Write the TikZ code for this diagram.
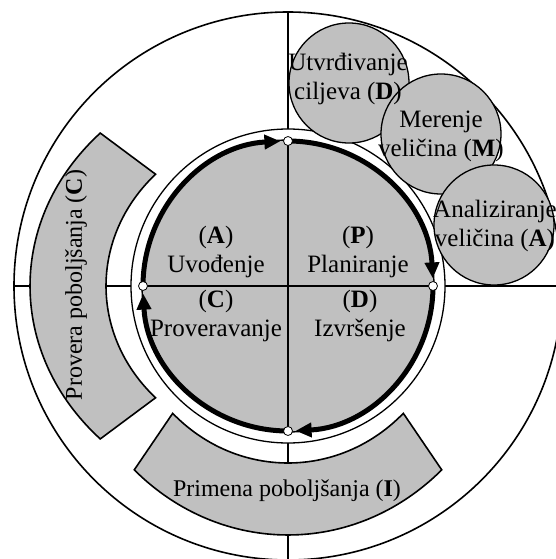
\documentclass[tikz,border=0pt]{standalone}
\usepackage{fontspec}
\setmainfont{Liberation Serif}
\usetikzlibrary{calc,arrows.meta}
\definecolor{ltgray}{RGB}{192,192,192}

\begin{document}
\begin{tikzpicture}[x=1pt,y=-1pt,
    band/.style={draw,line width=1.6pt,fill=ltgray},
    crossln/.style={line width=2.8pt},
    disc/.style={circle,draw,line width=1.3pt,fill=ltgray,inner sep=0pt,minimum size=120pt},
    cyc/.style={line width=5pt,-{Triangle[length=16pt,width=14pt]}},
    dot/.style={circle,draw,fill=white,line width=0.8pt,inner sep=0pt,minimum size=9pt},
    lbl/.style={align=center,font=\fontsize{25}{29}\selectfont}]
  \useasboundingbox (0,0) rectangle (556,559);
  \clip (0,0) rectangle (556,559);
  \coordinate (o) at (288,286);

  % outer ring and axes
  \draw[line width=1.6pt] (o) circle[radius=274];
  \coordinate (N) at (288,12);
  \coordinate (S) at (288,560);
  \coordinate (W) at (14,286);
  \coordinate (E) at (562,286);
  \draw[crossln] (N) -- (S);
  \draw[crossln] (W) -- (E);

  % improvement bands
  \draw[band] ($(o)+(136.7:258 and 223)$) arc[start angle=136.7,end angle=223.3,x radius=258,y radius=223]
    -- ($(o)+(223.3:182 and 163)$) arc[start angle=223.3,end angle=136.7,x radius=182,y radius=163] -- cycle;
  \draw[band] ($(o)+(47.6:228 and 249)$) arc[start angle=47.6,end angle=132.4,x radius=228,y radius=249]
    -- ($(o)+(134:166 and 177)$) arc[start angle=134,end angle=46,x radius=166,y radius=177] -- cycle;
  \node[rotate=90,font=\fontsize{24}{28}\selectfont] (tC) at (76,285) {Provera poboljšanja (\textbf{C})};
  \node[font=\fontsize{24}{28}\selectfont] (tI) at (287,491) {Primena poboljšanja (\textbf{I})};

  % PDCA core
  \draw[line width=1.3pt,fill=white] (o) circle[radius=157];
  \draw[line width=1.3pt,fill=ltgray] (o) circle[radius=146];
  \coordinate (pT) at (288,141);
  \coordinate (pB) at (288,431);
  \coordinate (pL) at (143,286);
  \coordinate (pR) at (433,286);
  \draw[line width=1.3pt] (pT) -- (pB);
  \draw[line width=1.3pt] (pL) -- (pR);
  \draw[cyc] (pL) arc[start angle=180,end angle=267,radius=145];
  \draw[cyc] (pT) arc[start angle=270,end angle=357,radius=145];
  \draw[cyc] (pR) arc[start angle=0,end angle=87,radius=145];
  \draw[cyc] (pB) arc[start angle=90,end angle=177,radius=145];
  \node[dot] (dT) at (pT) {};
  \node[dot] (dB) at (pB) {};
  \node[dot] (dL) at (pL) {};
  \node[dot] (dR) at (pR) {};
  \node[lbl] (qA) at (216,252) {(\textbf{A})\\Uvođenje};
  \node[lbl] (qP) at (358,252) {(\textbf{P})\\Planiranje};
  \node[lbl] (qC) at (216,316) {(\textbf{C})\\Proveravanje};
  \node[lbl] (qD) at (360,316) {(\textbf{D})\\Izvršenje};

  % planning steps
  \node[disc] (cD) at (349,83) {};
  \node[disc] (cM) at (441,134) {};
  \node[disc] (cA) at (494,225) {};
  \node[lbl] (tD) at (348,79) {Utvrđivanje\\ciljeva (\textbf{D})};
  \node[lbl] (tM) at (441,136) {Merenje\\veličina (\textbf{M})};
  \node[lbl] (tA) at (495,226) {Analiziranje\\veličina (\textbf{A})};
\end{tikzpicture}
\end{document}
